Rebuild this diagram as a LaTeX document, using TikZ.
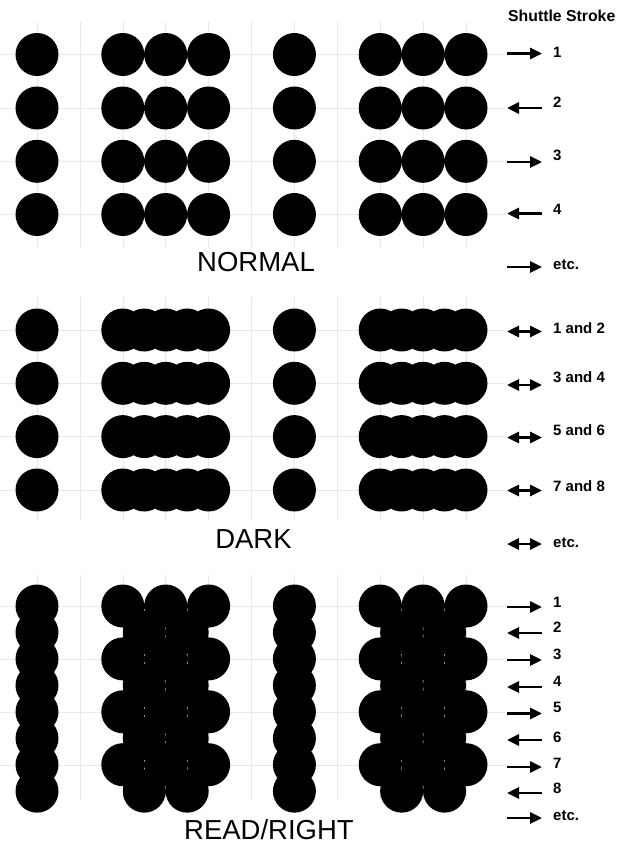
\documentclass[tikz,border=0pt]{standalone}
\usepackage{fontspec}
\setmainfont{Liberation Sans}
\usetikzlibrary{arrows.meta}
\tikzset{
  dot/.style={fill=black},
  gridline/.style={draw=black!9, line width=0.5pt},
  title/.style={font=\fontsize{27.5}{30}\selectfont, inner sep=0pt},
  lab/.style={font=\bfseries\fontsize{15}{17}\selectfont, inner sep=0pt, anchor=west},
  headlab/.style={font=\bfseries\fontsize{15.8}{18}\selectfont, inner sep=0pt, anchor=west},
  rarrow/.style={line width=2.8pt, -{Triangle[length=12pt,width=11pt]}},
  barrow/.style={line width=2.8pt, {Triangle[length=12pt,width=11pt]}-{Triangle[length=12pt,width=11pt]}},
}
\begin{document}
\begin{tikzpicture}[x=1pt,y=-1pt]
\useasboundingbox (0,0) rectangle (636,846);
% ---------- grids ----------
\foreach \ya/\yb in {22/247, 297/520, 575/800}{
  \foreach \k in {0,...,10}{
    \draw[gridline] ({37+42.9*\k},\ya) -- ({37+42.9*\k},\yb);
  }
}
\foreach \y in {54.5,108,161.3,214.5, 330,383.3,436.6,490, 606,659,712,765}{
  \draw[gridline] (0,\y) -- (505,\y);
}
% ---------- all dots: union of circles, used as a clip ----------
\begin{scope}
  \clip
  % NORMAL
  \foreach \y in {54.5,108,161.3,214.5}{
    \foreach \x in {37,122.8,165.7,208.6,294.4,380.2,423.1,466}{
      (\x,\y) circle[radius=21.5pt]
    }
  }
  % DARK
  \foreach \y in {330,383.3,436.6,490}{
    (37,\y) circle[radius=21.5pt] (294.4,\y) circle[radius=21.5pt]
    \foreach \j in {0,...,4}{
      ({122.8+21.45*\j},\y) circle[radius=21.5pt]
      ({380.2+21.45*\j},\y) circle[radius=21.5pt]
    }
  }
  % READ/RIGHT
  \foreach \k in {0,...,7}{
    (37,{606+26.45*\k}) circle[radius=21.5pt]
    (294.4,{606+26.45*\k}) circle[radius=21.5pt]
  }
  \foreach \k in {0,2,4,6}{
    \foreach \x in {122.8,165.7,208.6,380.2,423.1,466}{
      (\x,{606+26.45*\k}) circle[radius=21.5pt]
    }
  }
  \foreach \k in {1,3,5,7}{
    \foreach \x in {144.25,187.15,401.65,444.55}{
      (\x,{606+26.45*\k}) circle[radius=21.5pt]
    }
  };
  \fill[dot] (0,0) rectangle (636,846);
\end{scope}
% ---------- titles ----------
\node[title] (normal) at (256,262.5) {NORMAL};
\node[title] (dark) at (253.5,539) {DARK};
\node[title] (read) at (269,830) {READ/RIGHT};
% ---------- shuttle strokes ----------
\node[headlab] (head) at (508,16) {Shuttle Stroke};
% normal
\foreach \n/\ya/\yl/\t in {1/53.5/52/1, 2/108/102/2, 3/162/155/3, 4/213.5/209/4, 5/267/265/etc.}{
  \coordinate (ns\n) at (507,\ya);
  \coordinate (ne\n) at (542,\ya);
  \node[lab] (nl\n) at (553,\yl) {\t};
}
\draw[rarrow] (ns1) -- (ne1);
\draw[rarrow] (ne2) -- (ns2);
\draw[rarrow] (ns3) -- (ne3);
\draw[rarrow] (ne4) -- (ns4);
\draw[rarrow] (ns5) -- (ne5);
% dark
\foreach \n/\ya/\yl/\t in {1/331.5/328/1 and 2, 2/385/377.5/3 and 4, 3/437.5/430.5/5 and 6, 4/490.5/486/7 and 8, 5/544/543/etc.}{
  \coordinate (ds\n) at (507,\ya);
  \coordinate (de\n) at (542,\ya);
  \node[lab] (dl\n) at (553,\yl) {\t};
  \draw[barrow] (ds\n) -- (de\n);
}
% read/right
\foreach \n/\ya/\yl/\t in {1/607/602/1, 2/633/627.5/2, 3/660/654/3, 4/687/681/4, 5/713.5/707/5, 6/740/737/6, 7/767/763/7, 8/793/788/8, 9/818/816/etc.}{
  \coordinate (rs\n) at (507,\ya);
  \coordinate (re\n) at (542,\ya);
  \node[lab] (rl\n) at (553,\yl) {\t};
}
\foreach \n in {1,3,5,7,9}{ \draw[rarrow] (rs\n) -- (re\n); }
\foreach \n in {2,4,6,8}{ \draw[rarrow] (re\n) -- (rs\n); }
\end{tikzpicture}
\end{document}
